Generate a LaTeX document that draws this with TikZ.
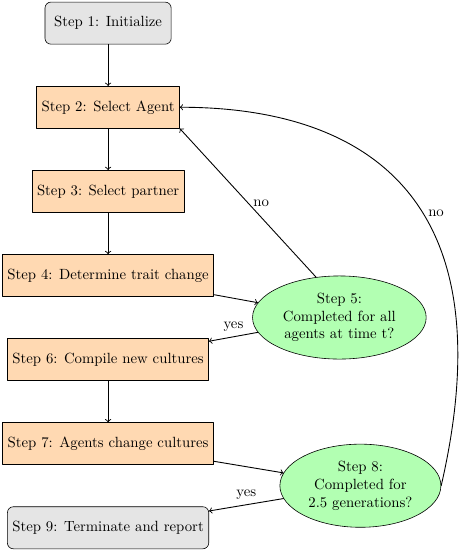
\documentclass[tikz,border=0pt]{standalone}
\usetikzlibrary{shapes.geometric}
\begin{document}
\begin{tikzpicture}[>=to,line join=round,line cap=round,semithick,
		proc/.style={draw,thin,fill=orange!30,minimum width=3cm,minimum height=1cm},
		term/.style={proc,rounded corners,fill=gray!20},
		check/.style={draw,thin,ellipse,fill=green!30,align=center}]
			\useasboundingbox (-2.57,0.55) rectangle (8.39,-12.6);
			\def\D{2}
			\node[term] (S1) at (0,0) {Step 1: Initialize};
			\node[proc] (S2) at (0,-\D) {Step 2: Select Agent};
			\node[proc] (S3) at (0,-2*\D) {Step 3: Select partner};
			\node[proc] (S4) at (0,-3*\D) {Step 4: Determine trait change};
			\node[check] (S5) at (5.5,-3.5*\D) {Step 5:\\Completed for all\\agents at time t?};
			\node[proc] (S6) at (0,-4*\D) {Step 6: Compile new cultures};
			\node[proc] (S7) at (0,-5*\D) {Step 7: Agents change cultures};
			\node[check] (S8) at (6,-5.5*\D) {Step 8:\\Completed for\\2.5 generations?};
			\node[term] (S9) at (0,-6*\D) {Step 9: Terminate and report};
			\foreach \a/\b in {S1/S2,S2/S3,S3/S4,S4/S5,S6/S7,S7/S8}{
				\draw[->] (\a) -- (\b);
			}
			\draw[->] (S5) -- node[above]{yes} (S6);
			\draw[->] (S8) -- node[above]{yes} (S9);
			\draw[->] (S5.120) -- node[right]{no} (S2.south east);
			\draw[->] (S8.east) to[out=77,in=0,out distance=7.4cm,in distance=4cm] node[pos=0.42,right]{no} (S2.east);
		\end{tikzpicture}
\end{document}
